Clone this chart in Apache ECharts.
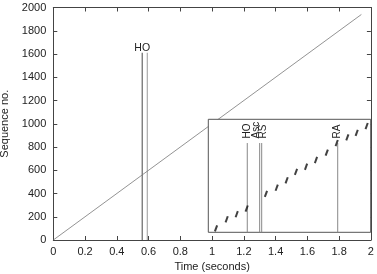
<!DOCTYPE html>
<html>
<head>
<meta charset="utf-8">
<script src="https://cdn.jsdelivr.net/npm/echarts@6/dist/echarts.min.js"></script>
<style>
  html, body { margin: 0; padding: 0; background: #fff; }
  #chart { width: 377px; height: 274px; }
</style>
</head>
<body>
<div id="chart"></div>
<script>
// main plot: sequence number against time
const seqTime = [0, 1.94];
const seqNo = [0, 1940];
const mainEventTime = [0.56, 0.592];
const mainEventTop = [1610, 1610];
const mainEventLabel = ['HO', ''];

// inset: packets around the handover (inset units)
const insetPacketX = [7.6, 18.1, 28, 37.8, 56.8, 67.4, 77.2, 86.4, 96.3, 106.1, 116.7, 126.5, 137, 146.2, 156];
const insetPacketY = [3.5, 11.5, 16, 21, 34, 39.5, 46, 53.5, 58, 64, 70.5, 79, 84, 88, 94];
const insetEventName = ['HO', 'Asc', 'RS', 'RA'];
const insetEventX = [38.4, 50.6, 52.6, 127.5];
const insetEventTop = [79, 79, 79, 79];

const font = '"Liberation Sans", Arial, Helvetica, sans-serif';
const axisColor = '#444';
const textColor = '#222';
const mainEventColor = ['#666', '#aaa'];
const insetLabelShift = { HO: 0, Asc: -3.5, RS: 1.5, RA: 0 };

const chart = echarts.init(document.getElementById('chart'), null, { renderer: 'canvas' });

const frameAxis = (extra) => ({
  gridIndex: 0,
  type: 'value',
  axisLine: { show: true, onZero: false, lineStyle: { color: axisColor, width: 1 } },
  axisTick: { show: true, inside: true, length: 4, lineStyle: { color: axisColor } },
  splitLine: { show: false },
  ...extra,
});

chart.setOption({
  animation: false,
  textStyle: { fontFamily: font },
  grid: [
    { left: 53.3, right: 6.1, top: 7.5, bottom: 34, outerBoundsMode: 'none', containLabel: false },
    {
      left: 208.3, top: 119.3, width: 162.4, height: 113, outerBoundsMode: 'none', containLabel: false,
      show: true, backgroundColor: '#fff', borderColor: '#555', borderWidth: 1, z: 3,
    },
  ],
  xAxis: [
    frameAxis({
      min: 0, max: 2, interval: 0.2, position: 'bottom',
      name: 'Time (seconds)', nameLocation: 'middle', nameGap: 16,
      nameTextStyle: { fontSize: 11, color: textColor },
      axisLabel: { fontSize: 11, color: textColor, margin: 6 },
    }),
    frameAxis({ min: 0, max: 2, interval: 0.2, position: 'top', axisLabel: { show: false } }),
    { gridIndex: 1, type: 'value', min: 0, max: 160, show: false },
  ],
  yAxis: [
    frameAxis({
      min: 0, max: 2000, interval: 200, position: 'left',
      name: 'Sequence no.', nameLocation: 'middle', nameGap: 43,
      nameTextStyle: { fontSize: 11, color: textColor },
      axisLabel: { fontSize: 11, color: textColor, margin: 7, formatter: (v) => String(v) },
    }),
    frameAxis({ min: 0, max: 2000, interval: 200, position: 'right', axisLabel: { show: false } }),
    { gridIndex: 1, type: 'value', min: 0, max: 100, show: false },
  ],
  series: [
    {
      type: 'line',
      xAxisIndex: 0, yAxisIndex: 0, z: 2,
      symbol: 'none',
      lineStyle: { color: '#777', width: 0.8 },
      data: seqTime.map((t, i) => [t, seqNo[i]]),
    },
    {
      type: 'custom',
      xAxisIndex: 0, yAxisIndex: 0, z: 2,
      data: mainEventTime.map((t, i) => [t, mainEventTop[i]]),
      renderItem: (params, api) => {
        const i = params.dataIndex;
        const p0 = api.coord([api.value(0), 0]);
        const p1 = api.coord([api.value(0), api.value(1)]);
        const children = [{
          type: 'line',
          shape: { x1: p0[0], y1: p0[1], x2: p1[0], y2: p1[1] },
          style: { stroke: mainEventColor[i], lineWidth: 1.2 },
        }];
        if (mainEventLabel[i]) {
          children.push({
            type: 'text',
            x: p1[0], y: p1[1] + 1,
            style: { text: mainEventLabel[i], fill: textColor, font: '10.5px ' + font, align: 'center', verticalAlign: 'bottom' },
          });
        }
        return { type: 'group', children };
      },
    },
    {
      type: 'custom',
      xAxisIndex: 2, yAxisIndex: 2, z: 5,
      data: insetEventX.map((x, i) => [x, insetEventTop[i]]),
      renderItem: (params, api) => {
        const name = insetEventName[params.dataIndex];
        const p0 = api.coord([api.value(0), 0]);
        const p1 = api.coord([api.value(0), api.value(1)]);
        return {
          type: 'group',
          children: [
            {
              type: 'line',
              shape: { x1: p0[0], y1: p0[1], x2: p1[0], y2: p1[1] },
              style: { stroke: '#888', lineWidth: 1 },
            },
            {
              type: 'text',
              x: p1[0] + insetLabelShift[name], y: p1[1] - 4.5,
              rotation: Math.PI / 2,
              style: { text: name, fill: textColor, font: '10px ' + font, align: 'left', verticalAlign: 'middle' },
            },
          ],
        };
      },
    },
    {
      type: 'scatter',
      xAxisIndex: 2, yAxisIndex: 2, z: 6,
      symbol: 'rect',
      symbolSize: [2, 6.5],
      symbolRotate: -20,
      itemStyle: { color: '#111' },
      data: insetPacketX.map((x, i) => [x, insetPacketY[i]]),
    },
  ],
});
</script>
</body>
</html>
